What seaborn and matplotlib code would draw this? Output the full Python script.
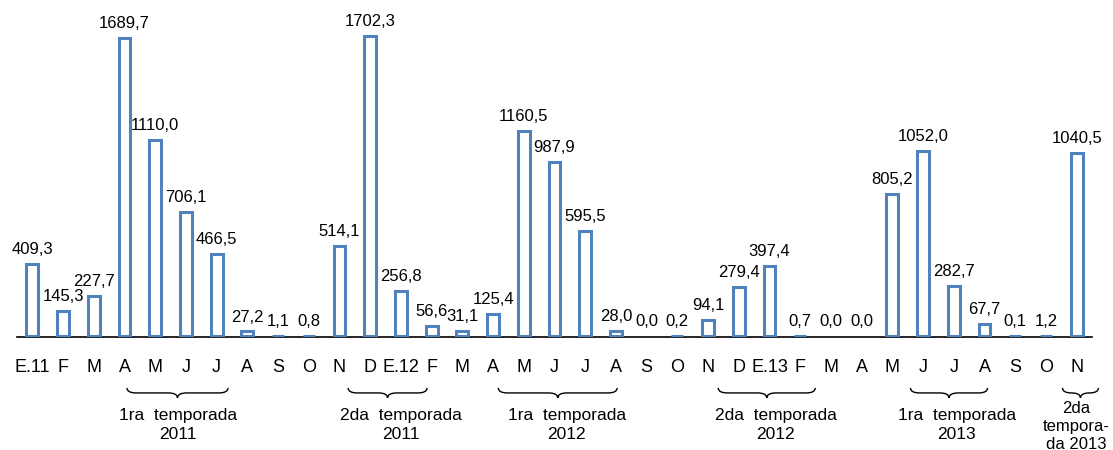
import numpy as np
import pandas as pd
import matplotlib
matplotlib.use("Agg")
import matplotlib.pyplot as plt
from matplotlib.path import Path
from matplotlib.patches import PathPatch
import seaborn as sns

# monthly values
months = ["E.11", "F", "M", "A", "M", "J", "J", "A", "S", "O", "N", "D",
          "E.12", "F", "M", "A", "M", "J", "J", "A", "S", "O", "N", "D",
          "E.13", "F", "M", "A", "M", "J", "J", "A", "S", "O", "N"]
values = [409.3, 145.3, 227.7, 1689.7, 1110.0, 706.1, 466.5, 27.2, 1.1, 0.8, 514.1, 1702.3,
          256.8, 56.6, 31.1, 125.4, 1160.5, 987.9, 595.5, 28.0, 0.0, 0.2, 94.1, 279.4,
          397.4, 0.7, 0.0, 0.0, 805.2, 1052.0, 282.7, 67.7, 0.1, 1.2, 1040.5]

# seasons: label, bracket start, bracket end (in category units)
season_labels = ["1ra  temporada\n2011", "2da  temporada\n2011", "1ra  temporada\n2012",
                 "2da  temporada\n2012", "1ra  temporada\n2013", "2da\ntempora-\nda 2013"]
season_start = [3.08, 10.28, 15.17, 22.33, 28.59, 33.54]
season_end = [6.37, 12.85, 19.04, 25.49, 31.10, 34.71]
season_text_x = [4.75, 12.0, 17.4, 24.2, 30.1, 34.0]

sns.set_style("white")
plt.rcParams['font.family'] = ['Liberation Sans', 'DejaVu Sans']

df = pd.DataFrame({"pos": np.arange(len(values)), "val": values})

fig = plt.figure(figsize=(11.13, 4.5), dpi=100)
ax = fig.add_axes([17 / 1113, 113 / 450, 1075 / 1113, 337 / 450])

sns.barplot(data=df, x="pos", y="val", ax=ax, width=0.39, color="white",
            edgecolor="#4F81BD", linewidth=2.2, saturation=1, zorder=3)

labels = [f"{v:.1f}".replace(".", ",") for v in values]
ax.bar_label(ax.containers[0], labels=labels, padding=5, fontsize=12, color="black")

# zero bars show only their label
for patch, v in zip(ax.containers[0], values):
    if v == 0:
        patch.set_linewidth(0)

ax.set_xlim(-0.5, len(values) - 0.5)
ax.set_ylim(-4, 1905)
for s in ["top", "left", "right"]:
    ax.spines[s].set_visible(False)
ax.spines["bottom"].set_color("black")
ax.spines["bottom"].set_linewidth(1.2)
ax.set_yticks([])
ax.set_xlabel("")
ax.set_ylabel("")

ax.set_xticks(np.arange(len(values)))
ax.set_xticklabels(months, fontsize=13, color="black")
ax.tick_params(axis="x", which="major", length=0, pad=16)
ax.set_xticks(np.arange(len(values) + 1) - 0.5, minor=True)
ax.tick_params(axis="x", which="minor", length=6.5, width=1.2, color="black", direction="out")

# curly braces below the labels
trans = ax.get_xaxis_transform()
y_top, y_h, y_tip = -0.151, -0.166, -0.181
r = 0.3
for x0, x1 in zip(season_start, season_end):
    xm = (x0 + x1) / 2
    rr = min(r, (x1 - x0) / 4)
    verts = [(x0, y_top), (x0, y_h), (x0 + rr, y_h),
             (xm - rr, y_h), (xm, y_h), (xm, y_tip),
             (xm, y_h), (xm + rr, y_h),
             (x1 - rr, y_h), (x1, y_h), (x1, y_top)]
    codes = [Path.MOVETO, Path.CURVE3, Path.CURVE3,
             Path.LINETO, Path.CURVE3, Path.CURVE3,
             Path.CURVE3, Path.CURVE3,
             Path.LINETO, Path.CURVE3, Path.CURVE3]
    ax.add_patch(PathPatch(Path(verts, codes), transform=trans, fill=False,
                           edgecolor="black", linewidth=1.0, clip_on=False))

for lab, xt in zip(season_labels, season_text_x):
    nlines = lab.count("\n") + 1
    if nlines == 2:
        ax.text(xt, -0.212, lab, transform=trans, ha="center", va="top", fontsize=12.5,
                color="black", linespacing=1.3)
    else:
        ax.text(xt, -0.19, lab, transform=trans, ha="center", va="top", fontsize=12,
                color="black", linespacing=1.25)

fig.savefig("out.png", dpi=100)
